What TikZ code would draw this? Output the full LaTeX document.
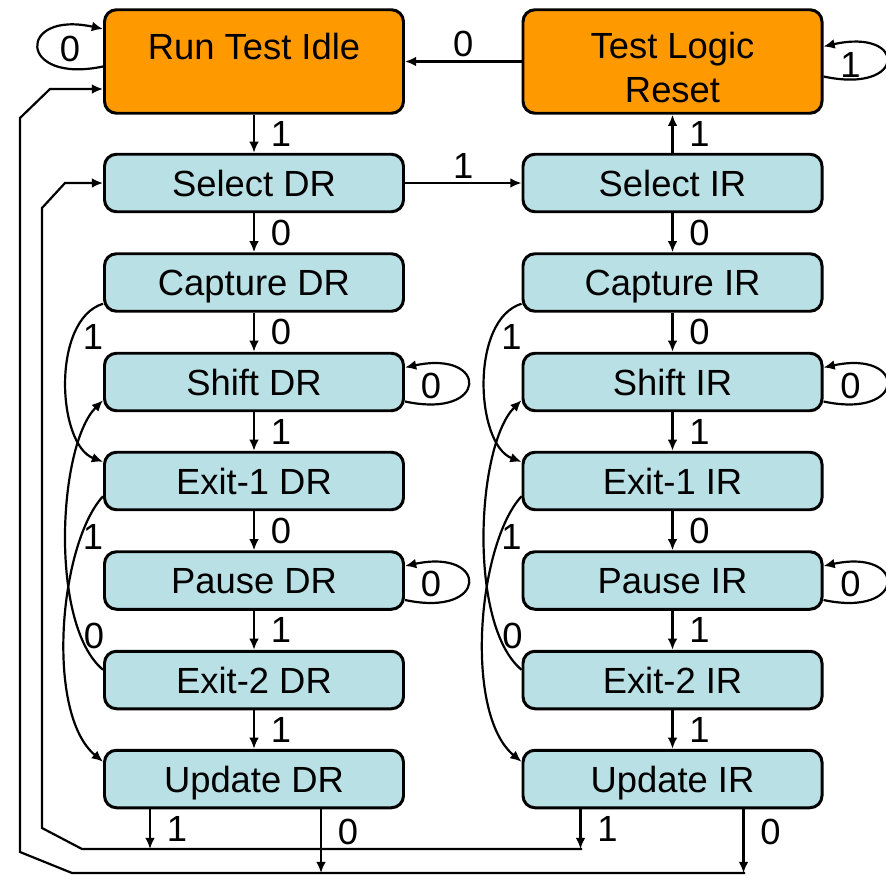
\documentclass[tikz,border=0pt]{standalone}
\usepackage{fontspec}
\setmainfont{Liberation Sans}
\usepackage{tikz}
\usetikzlibrary{arrows.meta,calc}

\definecolor{idleorange}{RGB}{255,153,0}
\definecolor{statecyan}{RGB}{185,224,228}

\tikzset{
  tapstate/.style={draw, line width=1.7pt, rounded corners=0.24cm, fill=statecyan,
    minimum width=5.98cm, minimum height=1.15cm, inner sep=0pt,
    text height=14.8pt, text depth=0pt,
    font=\fontsize{20.7}{25}\selectfont},
  tapmain/.style={tapstate, fill=idleorange, minimum height=2.07cm, align=center},
  tapedge/.style={line width=1.25pt, -{Latex[length=6.4pt,width=5.6pt]}},
  tapbit/.style={inner sep=2pt, font=\fontsize{20.7}{25}\selectfont}
}

\begin{document}
\begin{tikzpicture}
      \useasboundingbox (0,0) rectangle (17.72,-17.52);
      % reset and idle states
      \node[tapmain, text depth=17pt] (RTI) at (5.08,-1.23) {Run Test Idle};
      \node[tapmain, text height=, text depth=] (TLR) at (13.45,-1.23) {\rule{0pt}{21.7pt}Test Logic\\Reset};
      % data register column
      \node[tapstate] (SelDR) at (5.08,-3.66) {Select DR};
      \node[tapstate] (CapDR) at (5.08,-5.65) {Capture DR};
      \node[tapstate] (ShDR) at (5.08,-7.64) {Shift DR};
      \node[tapstate] (Ex1DR) at (5.08,-9.62) {Exit-1 DR};
      \node[tapstate] (PauDR) at (5.08,-11.61) {Pause DR};
      \node[tapstate] (Ex2DR) at (5.08,-13.60) {Exit-2 DR};
      \node[tapstate] (UpdDR) at (5.08,-15.58) {Update DR};
      % instruction register column
      \node[tapstate] (SelIR) at (13.45,-3.66) {Select IR};
      \node[tapstate] (CapIR) at (13.45,-5.65) {Capture IR};
      \node[tapstate] (ShIR) at (13.45,-7.64) {Shift IR};
      \node[tapstate] (Ex1IR) at (13.45,-9.62) {Exit-1 IR};
      \node[tapstate] (PauIR) at (13.45,-11.61) {Pause IR};
      \node[tapstate] (Ex2IR) at (13.45,-13.60) {Exit-2 IR};
      \node[tapstate] (UpdIR) at (13.45,-15.58) {Update IR};
      % top transitions
      \draw[tapedge] (TLR.west) -- (RTI.east) node[tapbit, midway, above] {0};
      \draw[tapedge] (RTI.south) -- (SelDR.north) node[tapbit, midway, right=7pt] {1};
      \draw[tapedge] (SelDR.east) -- (SelIR.west) node[tapbit, midway, above] {1};
      \draw[tapedge] (SelIR.north) -- (TLR.south) node[tapbit, midway, right=7pt] {1};
      % straight down the DR column
      \draw[tapedge] (SelDR.south) -- (CapDR.north) node[tapbit, midway, right=7pt] {0};
      \draw[tapedge] (CapDR.south) -- (ShDR.north) node[tapbit, midway, right=7pt] {0};
      \draw[tapedge] (ShDR.south) -- (Ex1DR.north) node[tapbit, midway, right=7pt] {1};
      \draw[tapedge] (Ex1DR.south) -- (PauDR.north) node[tapbit, midway, right=7pt] {0};
      \draw[tapedge] (PauDR.south) -- (Ex2DR.north) node[tapbit, midway, right=7pt] {1};
      \draw[tapedge] (Ex2DR.south) -- (UpdDR.north) node[tapbit, midway, right=7pt] {1};
      % straight down the IR column
      \draw[tapedge] (SelIR.south) -- (CapIR.north) node[tapbit, midway, right=7pt] {0};
      \draw[tapedge] (CapIR.south) -- (ShIR.north) node[tapbit, midway, right=7pt] {0};
      \draw[tapedge] (ShIR.south) -- (Ex1IR.north) node[tapbit, midway, right=7pt] {1};
      \draw[tapedge] (Ex1IR.south) -- (PauIR.north) node[tapbit, midway, right=7pt] {0};
      \draw[tapedge] (PauIR.south) -- (Ex2IR.north) node[tapbit, midway, right=7pt] {1};
      \draw[tapedge] (Ex2IR.south) -- (UpdIR.north) node[tapbit, midway, right=7pt] {1};
      % self loops
      \draw[tapedge] ([yshift=-0.1cm]RTI.west) .. controls +(-1.72,-0.36) and +(-1.72,0.38) .. ([yshift=0.65cm]RTI.west);
      \node[tapbit] (RTIloop) at ([shift={(-0.66,0.25)}]RTI.west) {0};
      \draw[tapedge] ([yshift=-0.3cm]TLR.east) .. controls +(1.68,-0.36) and +(1.68,0.38) .. ([yshift=0.3cm]TLR.east);
      \node[tapbit] (TLRloop) at ([shift={(0.54,-0.06)}]TLR.east) {1};
      \draw[tapedge] ([yshift=-0.39cm]ShDR.east) .. controls +(1.68,-0.36) and +(1.68,0.36) .. ([yshift=0.29cm]ShDR.east);
      \node[tapbit] (ShDRloop) at ([shift={(0.52,-0.08)}]ShDR.east) {0};
      \draw[tapedge] ([yshift=-0.39cm]PauDR.east) .. controls +(1.68,-0.36) and +(1.68,0.36) .. ([yshift=0.29cm]PauDR.east);
      \node[tapbit] (PauDRloop) at ([shift={(0.52,-0.06)}]PauDR.east) {0};
      \draw[tapedge] ([yshift=-0.39cm]ShIR.east) .. controls +(1.68,-0.36) and +(1.68,0.36) .. ([yshift=0.29cm]ShIR.east);
      \node[tapbit] (ShIRloop) at ([shift={(0.54,-0.08)}]ShIR.east) {0};
      \draw[tapedge] ([yshift=-0.39cm]PauIR.east) .. controls +(1.68,-0.36) and +(1.68,0.36) .. ([yshift=0.29cm]PauIR.east);
      \node[tapbit] (PauIRloop) at ([shift={(0.54,-0.06)}]PauIR.east) {0};
      % skips on the left of the DR column
      \draw[tapedge] ([yshift=0.18cm]CapDR.south west) .. controls +(-1.04,-0.32) and +(-0.92,0.34) .. ([yshift=-0.22cm]Ex1DR.north west);
      \node[tapbit] (CapDRskip) at ([shift={(-0.2,-0.48)}]CapDR.south west) {1};
      \draw[tapedge] ([yshift=0.3cm]Ex1DR.south west) .. controls +(-0.88,-0.96) and +(-1.16,0.96) .. ([yshift=-0.26cm]UpdDR.north west);
      \node[tapbit] (Ex1DRskip) at ([shift={(-0.2,-0.52)}]Ex1DR.south west) {1};
      \draw[tapedge] ([yshift=-0.4cm]Ex2DR.north west) .. controls +(-1.08,0.9) and +(-0.9,-0.9) .. ([yshift=0.24cm]ShDR.south west);
      \node[tapbit] (Ex2DRback) at ([shift={(-0.18,0.28)}]Ex2DR.north west) {0};
      % skips on the left of the IR column
      \draw[tapedge] ([yshift=0.18cm]CapIR.south west) .. controls +(-1.04,-0.32) and +(-0.92,0.34) .. ([yshift=-0.22cm]Ex1IR.north west);
      \node[tapbit] (CapIRskip) at ([shift={(-0.2,-0.48)}]CapIR.south west) {1};
      \draw[tapedge] ([yshift=0.3cm]Ex1IR.south west) .. controls +(-0.88,-0.96) and +(-1.16,0.96) .. ([yshift=-0.26cm]UpdIR.north west);
      \node[tapbit] (Ex1IRskip) at ([shift={(-0.2,-0.52)}]Ex1IR.south west) {1};
      \draw[tapedge] ([yshift=-0.4cm]Ex2IR.north west) .. controls +(-1.08,0.9) and +(-0.9,-0.9) .. ([yshift=0.24cm]ShIR.south west);
      \node[tapbit] (Ex2IRback) at ([shift={(-0.18,0.28)}]Ex2IR.north west) {0};
      % return buses from the update states
      \coordinate (busSel) at (11.64,-16.98);
      \coordinate (busRTI) at (14.9,-17.46);
      \draw[tapedge] (busSel) -- (1.64,-16.98) -- (0.84,-16.56) -- (0.84,-4.16) -- (1.30,-3.66) -- (SelDR.west);
      \draw[tapedge] (busRTI) -- (1.44,-17.46) -- (0.4,-17.04) -- (0.4,-2.36) -- (1.0,-1.78) -- ([yshift=-0.55cm]RTI.west);
      \coordinate (updDR1) at ([xshift=0.94cm]UpdDR.south west);
      \coordinate (updDR0) at ([xshift=4.36cm]UpdDR.south west);
      \coordinate (updIR1) at ([xshift=1.18cm]UpdIR.south west);
      \coordinate (updIR0) at ([xshift=4.44cm]UpdIR.south west);
      \draw[tapedge] (updDR1) -- (updDR1 |- busSel) node[tapbit, midway, right=7pt] {1};
      \draw[tapedge] (updDR0) -- (updDR0 |- busRTI) node[tapbit, pos=0.35, right=7pt] {0};
      \draw[tapedge] (updIR1) -- (updIR1 |- busSel) node[tapbit, midway, right=7pt] {1};
      \draw[tapedge] (updIR0) -- (updIR0 |- busRTI) node[tapbit, pos=0.35, right=7pt] {0};
    \end{tikzpicture}
\end{document}
